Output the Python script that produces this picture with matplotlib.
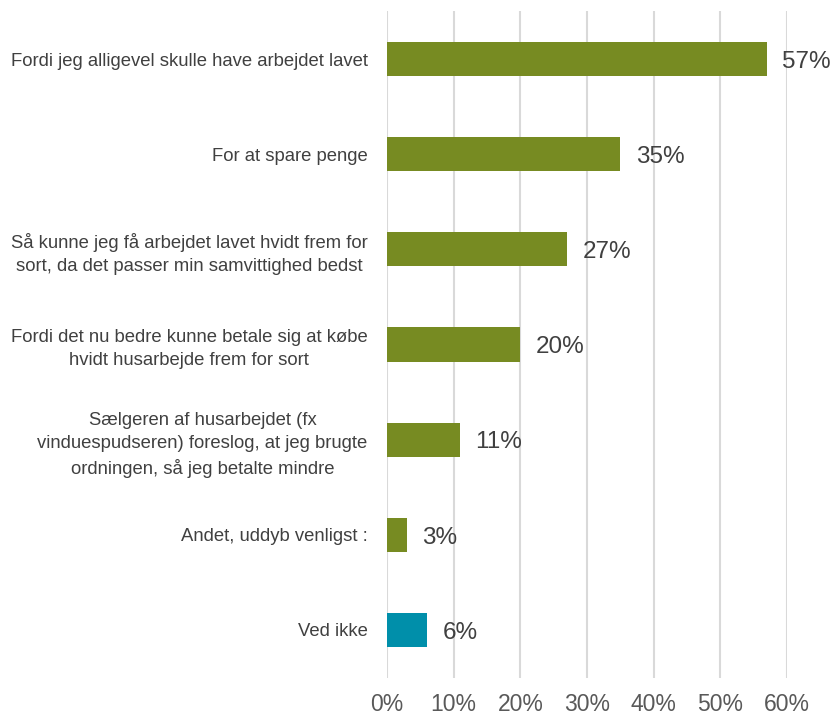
import matplotlib
matplotlib.use("Agg")
import matplotlib.pyplot as plt
from matplotlib.ticker import PercentFormatter

categories = [
    "Fordi jeg alligevel skulle have arbejdet lavet",
    "For at spare penge",
    "Så kunne jeg få arbejdet lavet hvidt frem for\nsort, da det passer min samvittighed bedst",
    "Fordi det nu bedre kunne betale sig at købe\nhvidt husarbejde frem for sort",
    "Sælgeren af husarbejdet (fx\nvinduespudseren) foreslog, at jeg brugte\nordningen, så jeg betalte mindre",
    "Andet, uddyb venligst :",
    "Ved ikke",
]
values = [57, 35, 27, 20, 11, 3, 6]
colors = ["#778B22"] * 6 + ["#008FAA"]
ticks = [0, 10, 20, 30, 40, 50, 60]

plt.rcParams["font.family"] = ["Liberation Sans", "DejaVu Sans"]

fig = plt.figure(figsize=(8.33, 7.15), dpi=100)
ax = fig.add_axes([0.4646, 0.0524, 0.4802, 0.9316])

y = list(range(len(categories)))
ax.barh(y, values, height=0.36, color=colors, zorder=3)
for yi, v in zip(y, values):
    ax.annotate("{}%".format(v), (v, yi), xytext=(11, -2), textcoords="offset points",
                va="center", ha="left", fontsize=17.5, color="#404040")

ax.set_yticks(y)
ax.set_yticklabels(categories, fontsize=13.3, color="#404040",
                   multialignment="center", linespacing=1.45)
ax.set_ylim(len(categories) - 0.5, -0.5)
ax.set_xlim(0, 60)
ax.set_xticks(ticks)
ax.xaxis.set_major_formatter(PercentFormatter(decimals=0))
ax.tick_params(axis="x", labelsize=16.5, labelcolor="#595959", length=0, pad=11)
ax.tick_params(axis="y", length=0, pad=14)
ax.grid(True, axis="x", color="#D9D9D9", linewidth=1.5, zorder=0)
for s in ax.spines.values():
    s.set_visible(False)

fig.savefig("out.png", dpi=100)
